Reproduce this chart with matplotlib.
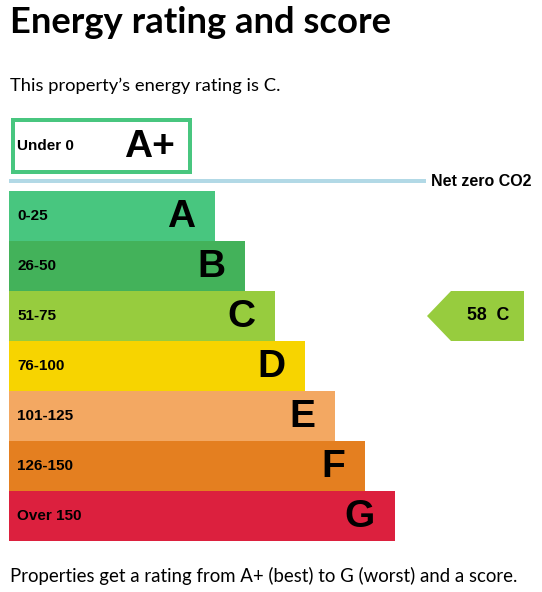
import matplotlib.pyplot as plt
from matplotlib.patches import Rectangle, Polygon

# data
bands = ["A", "B", "C", "D", "E", "F", "G"]
score_ranges = ["0-25", "26-50", "51-75", "76-100", "101-125", "126-150", "Over 150"]
band_colors = ["#48c67f", "#43b25a", "#97cc3e", "#f7d400", "#f3a862", "#e47f20", "#dc203e"]
top_band = "A+"
top_range = "Under 0"
top_color = "#48c67f"
score = 58
rating = "C"

title = "Energy rating and score"
intro = "This property\u2019s energy rating is C."
footer = "Properties get a rating from A+ (best) to G (worst) and a score."
net_zero = "Net zero CO2"

W, H = 542, 592
fig = plt.figure(figsize=(W / 100, H / 100), dpi=100)
ax = fig.add_axes([0, 0, 1, 1])
ax.set_xlim(0, W)
ax.set_ylim(H, 0)
ax.axis("off")

px = 0.72  # points per pixel at dpi 100
body_font = "Lato"
label_font = "Liberation Sans"

ax.text(10, 33, title, fontsize=26.2, fontweight="bold", family=body_font, va="baseline")
ax.text(10, 91, intro, fontsize=13.2, family=body_font, va="baseline")
ax.text(10, 582, footer, fontsize=13.4, family=body_font, va="baseline")

# A+ box
ax.add_patch(Rectangle((12.5, 120), 177.5, 52, fill=False, edgecolor=top_color, lw=4 * px))
ax.text(17, 146, top_range, fontsize=11, fontweight="bold", family=label_font, va="center")
ax.text(175, 147, top_band, fontsize=28, fontweight="bold", family=label_font,
        va="center", ha="right")

# net zero line
ax.plot([9, 426], [181, 181], color="#b2d9e6", lw=4 * px, solid_capstyle="butt")
ax.text(431, 181, net_zero, fontsize=11.5, fontweight="bold", family=label_font, va="center")

# band bars
left = 9
row_h = 50
top = 191
step = 30
base_w = 206
ys = [top + row_h * (i + 0.5) for i in range(len(bands))]
widths = [base_w + step * i for i in range(len(bands))]
ax.barh(ys, widths, left=left, height=row_h, color=band_colors, linewidth=0)
for y, w, b, r in zip(ys, widths, bands, score_ranges):
    ax.text(17, y, r, fontsize=11, fontweight="bold", family=label_font, va="center")
    ax.text(left + w - 20, y + 1, b, fontsize=28, fontweight="bold", family=label_font,
            va="center", ha="right")

# current rating arrow
i = bands.index(rating)
yc = ys[i]
x_tip, x_shoulder, x_end = 427, 451, 524
arrow = Polygon([(x_tip, yc), (x_shoulder, yc - row_h / 2), (x_end, yc - row_h / 2),
                 (x_end, yc + row_h / 2), (x_shoulder, yc + row_h / 2)],
                closed=True, color=band_colors[i], lw=0)
ax.add_patch(arrow)
ax.text(488.5, yc, f"{score}  {rating}", fontsize=12.8, fontweight="bold", family=label_font,
        va="center", ha="center")

fig.savefig("out.png", dpi=100)
